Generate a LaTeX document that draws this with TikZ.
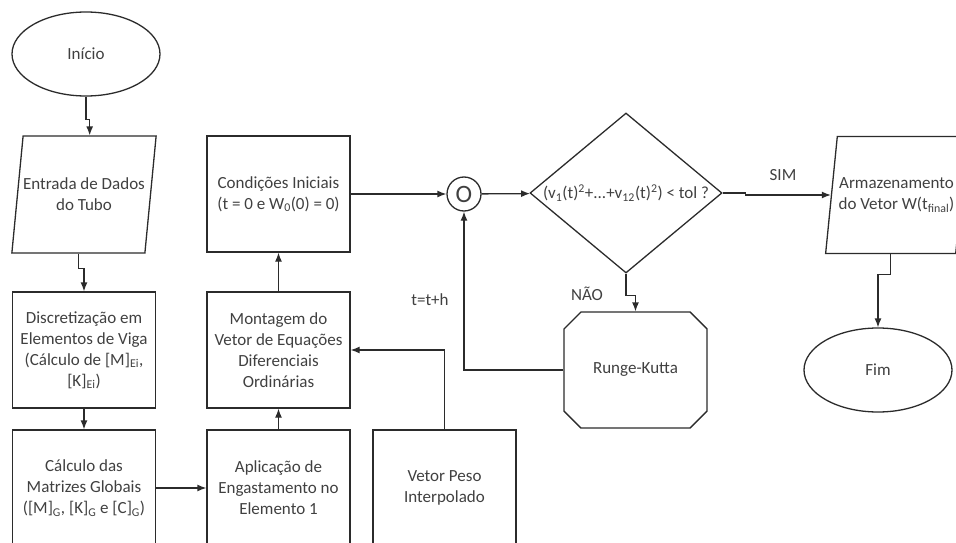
\documentclass[tikz,border=0pt]{standalone}
\usepackage{fontspec}
\setmainfont{Carlito}
\usetikzlibrary{shapes.geometric,shapes.misc,arrows.meta}
\definecolor{texto}{HTML}{404040}
\definecolor{traco}{HTML}{2B2B2B}

\begin{document}
\begin{tikzpicture}[x=1pt, y=-1pt, align=center, line width=1.3pt, color=traco,
    font=\fontsize{17}{21}\selectfont,
    every node/.style={text=texto},
    caixa/.style={draw, rectangle, minimum width=143, minimum height=116, inner sep=0},
    elipse/.style={draw, ellipse, minimum width=148, minimum height=84, inner sep=0},
    dados/.style={draw, trapezium, trapezium left angle=84, trapezium right angle=96,
        trapezium stretches=true, minimum width=142, minimum height=117,
        inner xsep=0, inner ysep=37},
    decisao/.style={draw, diamond, shape aspect=1.2, minimum width=192, minimum height=160, inner sep=0},
    rk/.style={draw, chamfered rectangle, chamfered rectangle xsep=11.5pt,
        chamfered rectangle ysep=10pt, minimum width=143, minimum height=116, inner sep=0},
    conector/.style={draw, circle, minimum size=34, inner sep=0, font=\fontsize{25}{25}\selectfont},
    seta/.style={-{Latex[length=9pt,width=7pt]}}]
    \useasboundingbox (0,0) rectangle (956,543);
    \clip (0,0) rectangle (956,543);

    \node[elipse] (inicio) at (86,54) {Início};
    \node[dados] (entrada) at (84,194.5) {Entrada de Dados\\do Tubo};
    \node[caixa] (discret) at (84,350) {Discretização em\\Elementos de Viga\\(Cálculo de [M]\textsubscript{Ei},\\{}[K]\textsubscript{Ei})};
    \node[caixa] (calc) at (84,488) {Cálculo das\\Matrizes Globais\\([M]\textsubscript{G}, [K]\textsubscript{G} e [C]\textsubscript{G})};
    \node[caixa] (aplic) at (278.5,488) {Aplicação de\\Engastamento no\\Elemento 1};
    \node[caixa] (mont) at (278.5,350) {Montagem do\\Vetor de Equações\\Diferenciais\\Ordinárias};
    \node[caixa] (cond) at (278.5,194) {Condições Iniciais\\(t = 0 e W\textsubscript{0}(0) = 0)};
    \node[caixa] (peso) at (444.5,488) {Vetor Peso\\Interpolado};
    \node[conector] (junta) at (464,194) {O};
    \node[decisao] (teste) at (626,193) {(v\textsubscript{1}(t)\textsuperscript{2}+...+v\textsubscript{12}(t)\textsuperscript{2}) < tol ?};
    \node[rk] (runge) at (635.5,370) {Runge-Kutta};
    \node[dados] (armaz) at (896.5,195) {Armazenamento\\do Vetor W(t\textsubscript{final})};
    \node[elipse] (fim) at (878,370) {Fim};

    \node (sim) at (783,175) {SIM};
    \node (nao) at (587,294) {NÃO};
    \node (passo) at (430,300) {t=t+h};

    \draw[seta] (inicio.south) -- ++(0,23) -| (entrada.top side);
    \draw[seta] (entrada.bottom side) -- ++(0,15) -| (discret.north);
    \draw[seta] (discret) -- (calc);
    \draw[seta] (calc) -- (aplic);
    \draw[seta] (aplic) -- (mont);
    \draw[seta] (mont) -- (cond);
    \draw[seta] (peso.north) |- (mont.east);
    \draw[seta] (cond) -- (junta);
    \draw[seta] (junta) -- (teste);
    \draw[seta] (teste.south) -- ++(0,22) -| (runge.north);
    \draw[seta] (runge.west) -| (junta.south);
    \draw[seta] (teste.east) -- ++(23,0) |- (armaz.left side);
    \draw[seta] (armaz.bottom side) -- ++(0,20) -| (fim.north);
\end{tikzpicture}
\end{document}
